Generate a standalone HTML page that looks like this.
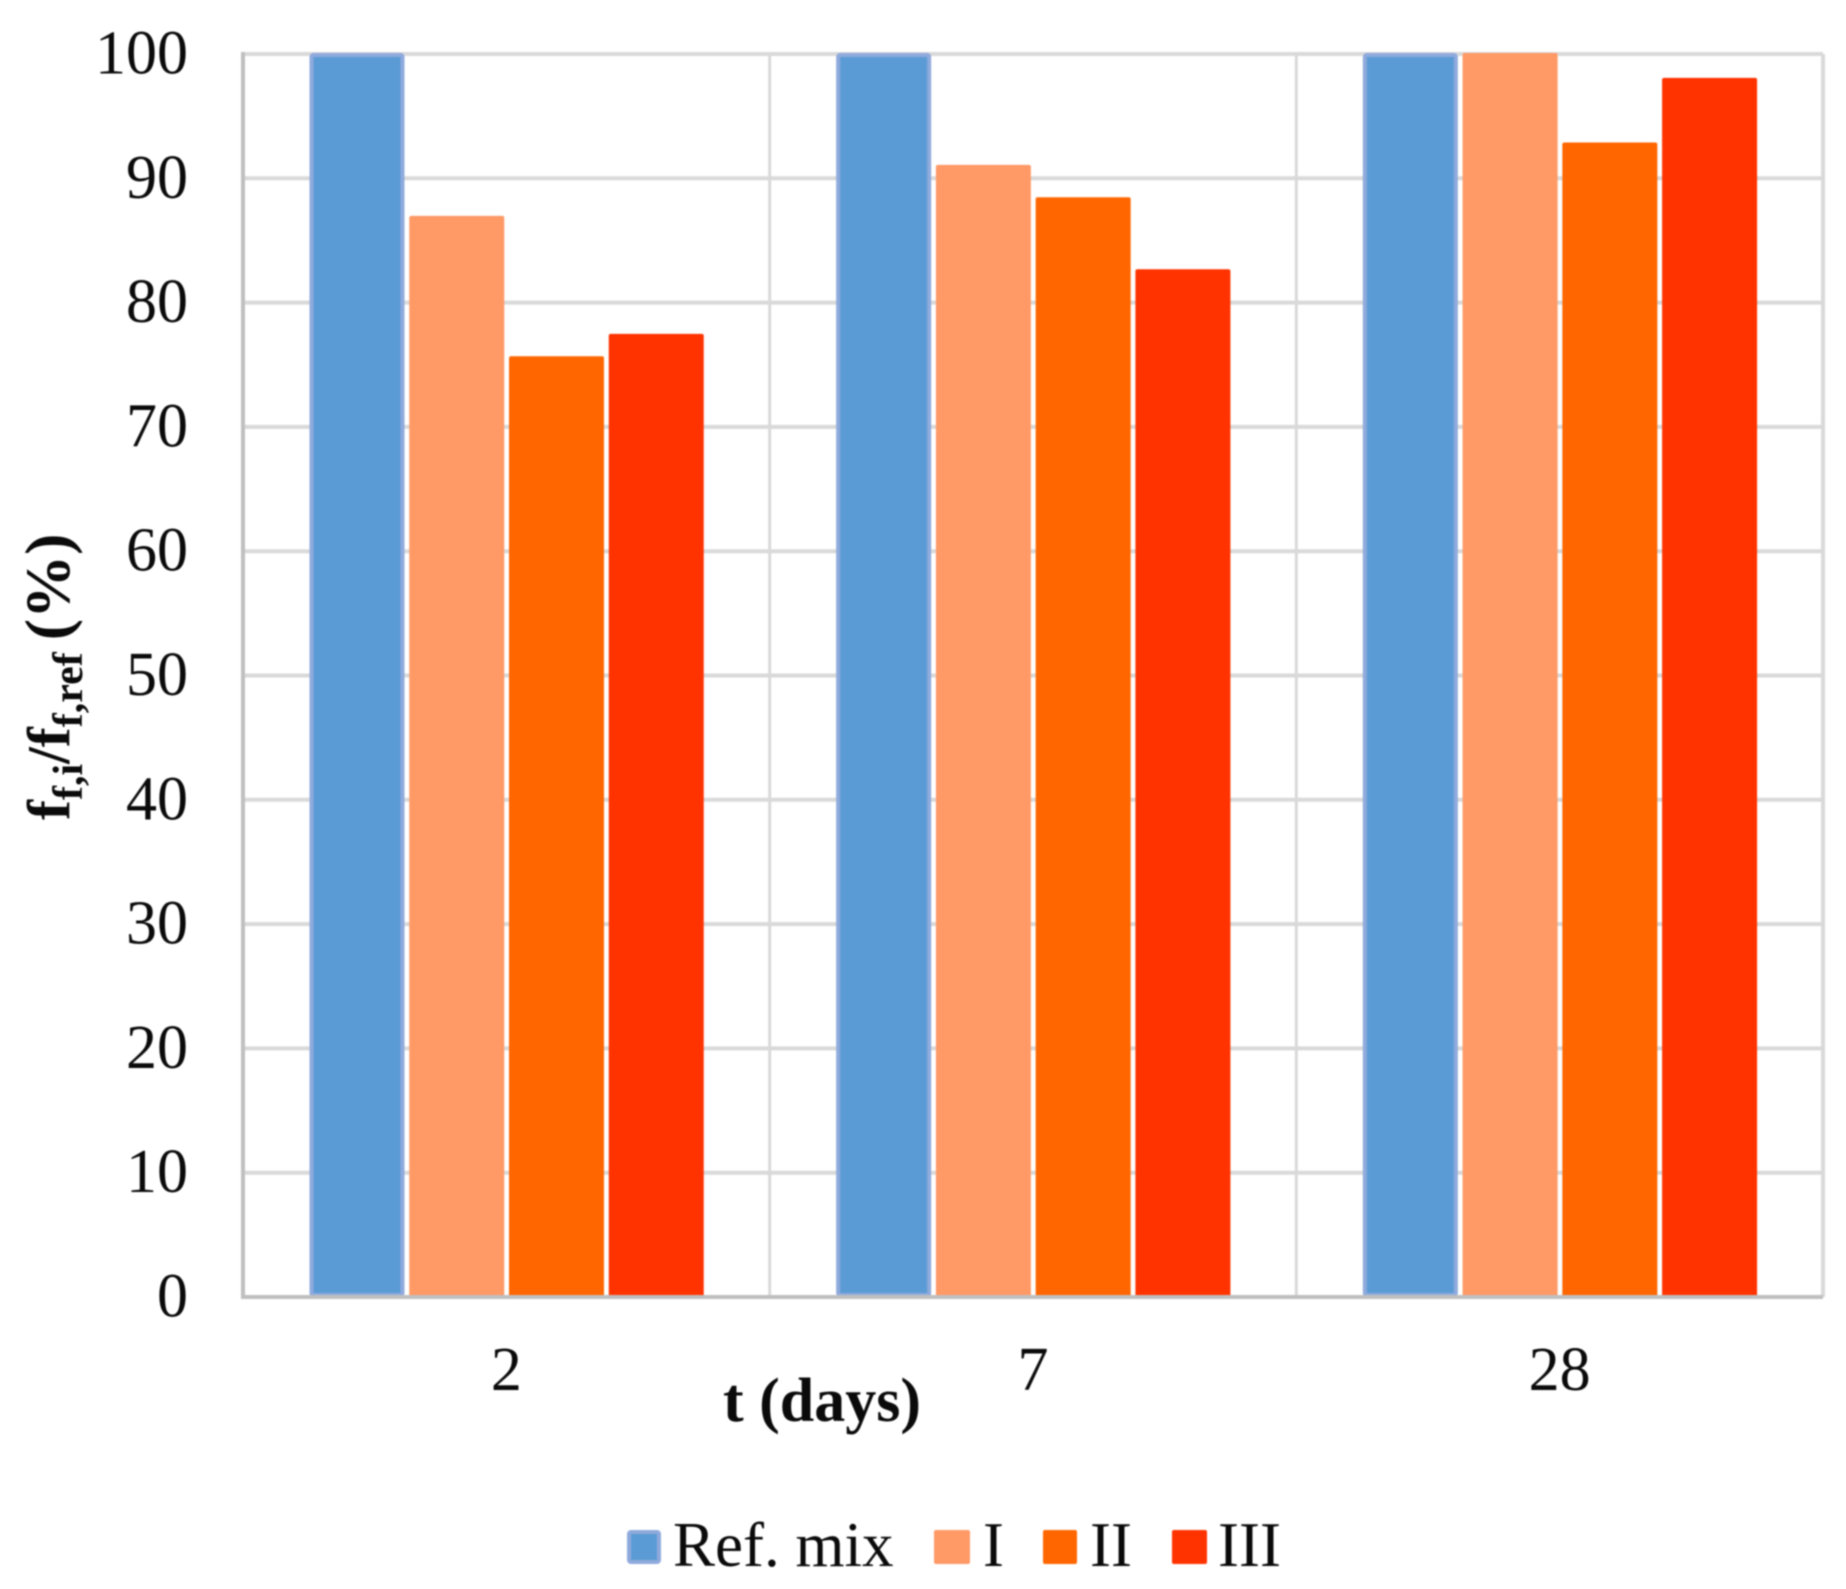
<!DOCTYPE html>
<html lang="en">
<head>
<meta charset="utf-8">
<title>Relative flexural strength chart</title>
<style>
html,body{margin:0;padding:0;background:#fff;width:1846px;height:1589px;overflow:hidden}
svg{display:block;filter:blur(0.7px)}
text{font-family:"Liberation Serif",serif;fill:#0a0a0a}
</style>
</head>
<body>
<svg id="chart" xmlns="http://www.w3.org/2000/svg" width="1846" height="1589" viewBox="0 0 1846 1589">
  <rect x="0" y="0" width="1846" height="1589" fill="#ffffff"/>
  <g id="grid"></g>
  <g id="bars"></g>
  <g id="axes"></g>
  <text x="822" y="1421" font-size="62" font-weight="700" text-anchor="middle">t (days)</text>
  <text transform="translate(69,820) rotate(-90)" font-size="60" font-weight="700">f<tspan font-size="42" dy="13">f,i</tspan><tspan dy="-13">/f</tspan><tspan font-size="42" dy="13">f,ref</tspan><tspan font-size="64" dy="-13" dx="12">(%)</tspan></text>
  <g>
    <g>
      <rect x="629" y="1532" width="30" height="30" fill="#5B9BD5" stroke="#8FAADC" stroke-width="4" rx="2"/>
      <text x="673" y="1566" font-size="63">Ref. mix</text>
    </g>
    <g>
      <rect x="934" y="1530" width="36" height="34" fill="#FF9966" rx="2"/>
      <text x="983" y="1566" font-size="63">I</text>
    </g>
    <g>
      <rect x="1043" y="1530" width="34" height="34" fill="#FF6600" rx="2"/>
      <text x="1090" y="1566" font-size="63">II</text>
    </g>
    <g>
      <rect x="1172" y="1530" width="35" height="34" fill="#FF3300" rx="2"/>
      <text x="1218" y="1566" font-size="63">III</text>
    </g>
  </g>
</svg>
<script>
const categories = ['2', '7', '28'];
const yTickLabels = [0, 10, 20, 30, 40, 50, 60, 70, 80, 90, 100];
const refMix = [100, 100, 100];
const seriesI = [86.9, 91.0, 100];
const seriesII = [75.6, 88.4, 92.8];
const seriesIII = [77.4, 82.6, 98.0];

const seriesNames = ['ref-mix', 'i', 'ii', 'iii'];
const seriesValues = [refMix, seriesI, seriesII, seriesIII];
const seriesColors = ['#5B9BD5', '#FF9966', '#FF6600', '#FF3300'];

const plotLeft = 243, plotRight = 1823, plotTop = 54, plotBottom = 1297;
const yMin = 0, yMax = 100;
const NS = 'http://www.w3.org/2000/svg';

function yScale(v) {
  return plotBottom - (v - yMin) / (yMax - yMin) * (plotBottom - plotTop);
}
function bandWidth() {
  return (plotRight - plotLeft) / categories.length;
}
function xCategoryLeft(i) {
  return plotLeft + i * bandWidth();
}
function xBar(catIndex, seriesIndex) {
  return xCategoryLeft(catIndex) + 66.5 + seriesIndex * 99.75;
}
function shape(tag, parent, props) {
  const el = document.createElementNS(NS, tag);
  for (const k in props) el.setAttribute(k, props[k]);
  parent.appendChild(el);
  return el;
}

const gridG = document.getElementById('grid');
const barsG = document.getElementById('bars');
const axesG = document.getElementById('axes');

yTickLabels.forEach(function (t) {
  const y = yScale(t);
  if (t !== yMin) {
    const line = shape('line', gridG, {x1: plotLeft, x2: plotRight, y1: y, y2: y, stroke: '#D9D9D9', 'stroke-width': 4});
    
    
  }
  const label = shape('text', axesG, {x: 188, y: y + 19.5, 'font-size': 62, 'text-anchor': 'end'});
  label.textContent = String(t);
  
  
});

categories.forEach(function (c, i) {
  if (i > 0) {
    const vx = xCategoryLeft(i);
    const vline = shape('line', gridG, {x1: vx, x2: vx, y1: plotTop, y2: plotBottom, stroke: '#D9D9D9', 'stroke-width': 3});
    
    
  }
  const label = shape('text', axesG, {x: xCategoryLeft(i) + bandWidth() / 2, y: 1390, 'font-size': 62, 'text-anchor': 'middle'});
  label.textContent = c;
  
  
});

const rightBorder = shape('line', gridG, {x1: plotRight, x2: plotRight, y1: plotTop, y2: plotBottom, stroke: '#D9D9D9', 'stroke-width': 4});



seriesValues.forEach(function (vals, s) {
  vals.forEach(function (v, c) {
    const top = yScale(v);
    const inset = s === 0 ? 2 : 0;
    const bar = shape('rect', barsG, {
      x: xBar(c, s) + inset,
      y: top + inset - 1,
      width: 95 - inset * 2,
      height: plotBottom - top - inset * 2 + 1,
      fill: seriesColors[s],
      rx: 2
    });
    if (s === 0) {
      bar.setAttribute('stroke', '#8FAADC');
      bar.setAttribute('stroke-width', 4);
    }
    
    
  });
});

const yAxis = shape('line', axesG, {x1: plotLeft, x2: plotLeft, y1: plotTop - 2, y2: plotBottom + 2, stroke: '#BFBFBF', 'stroke-width': 4});



const xAxis = shape('line', axesG, {x1: plotLeft, x2: plotRight, y1: plotBottom, y2: plotBottom, stroke: '#BFBFBF', 'stroke-width': 4});


</script>
</body>
</html>
